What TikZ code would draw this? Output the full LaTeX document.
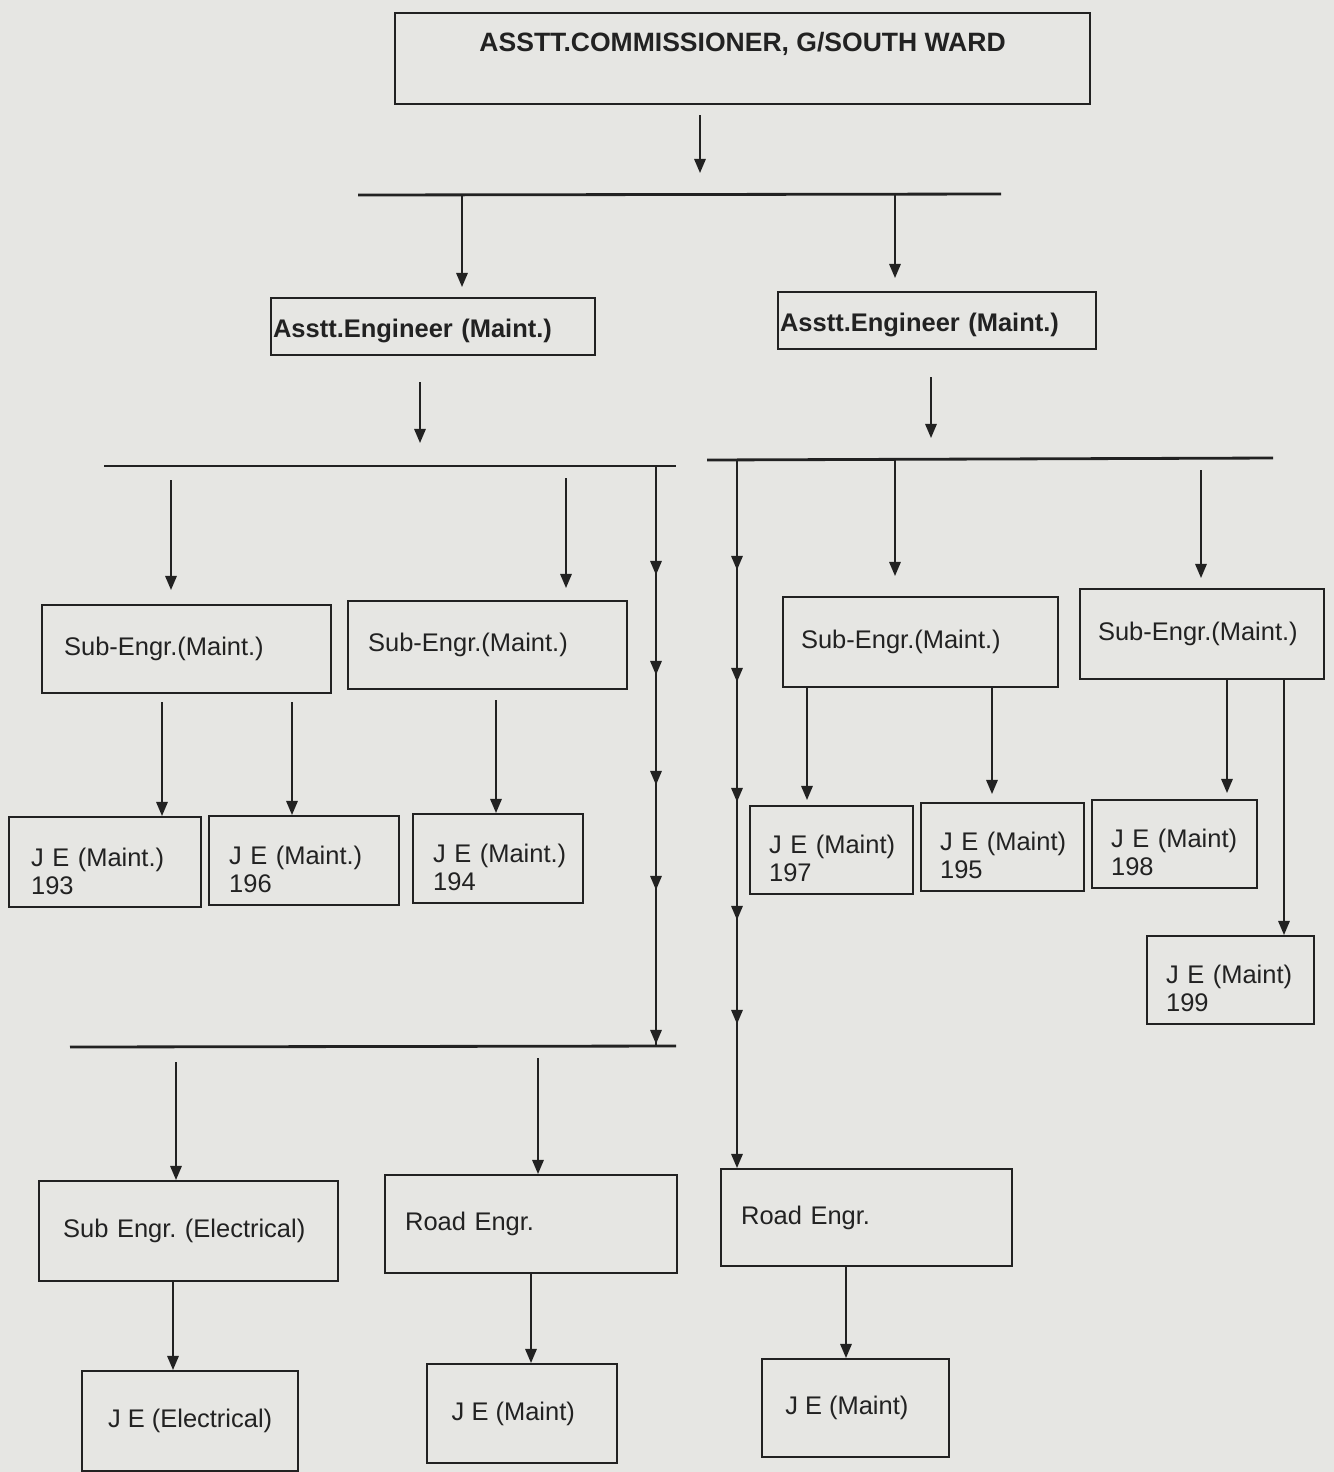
\documentclass[tikz,border=0pt]{standalone}
\usepackage{fontspec}
\setmainfont{Liberation Sans}
\usetikzlibrary{arrows.meta, calc, positioning}
\definecolor{paper}{RGB}{230,230,227}
\definecolor{ink}{RGB}{34,34,34}
\newcommand{\dnstrut}[1]{\rule{0pt}{#1}}
\tikzset{
  box/.style={draw=ink, line width=1.3pt, rectangle, anchor=north west, inner ysep=2pt,
    font=\fontsize{14.5}{16}\selectfont, text=ink},
  lbox/.style={box, align=left},
  cbox/.style={box, align=center},
  arr/.style={draw=ink, line width=1pt, -{Triangle[length=8pt,width=6.5pt]}},
  trunk/.style={draw=ink, line width=1pt},
  bus/.style={draw=ink, line width=1.6pt}
}

\begin{document}
\begin{tikzpicture}[x=0.02cm, y=-0.02cm]
\useasboundingbox (0,0) rectangle (1334,1472);
\fill[paper] (0,0) rectangle (1334,1472);

% Head of the ward
\node[cbox, font=\bfseries\fontsize{15.1}{16}\selectfont, minimum width=395.5pt, minimum height=51.8pt,
  text height=10.8pt, text depth=19pt] (comm) at (394,12) {ASSTT.COMMISSIONER, G/SOUTH WARD};

% Asstt. Engineers
\node[lbox, font=\bfseries\fontsize{14.5}{16}\selectfont, minimum width=184.4pt, minimum height=32.4pt,
  text width=182.2pt, inner xsep=1.1pt] (ae1) at (270,297) {\dnstrut{16pt}Asstt.Engineer~(Maint.)};
\node[lbox, font=\bfseries\fontsize{14.5}{16}\selectfont, minimum width=180.9pt, minimum height=32.4pt,
  text width=178.7pt, inner xsep=1.1pt] (ae2) at (777,291) {\dnstrut{16pt}Asstt.Engineer~(Maint.)};

% Sub Engineers
\node[lbox, minimum width=164.4pt, minimum height=50.1pt, text width=139.4pt, inner xsep=12.5pt] (se1) at (41,604) {Sub-Engr.(Maint.)};
\node[lbox, minimum width=158.8pt, minimum height=50.1pt, text width=136pt, inner xsep=11.4pt] (se2) at (347,600) {Sub-Engr.(Maint.)};
\node[lbox, minimum width=156.5pt, minimum height=51.2pt, text width=136.1pt, inner xsep=10.2pt] (se3) at (782,596) {Sub-Engr.(Maint.)};
\node[lbox, minimum width=138.8pt, minimum height=51.2pt, text width=118.4pt, inner xsep=10.2pt] (se4) at (1079,588) {Sub-Engr.(Maint.)};

% Junior Engineers (numbered)
\node[lbox, minimum width=109.2pt, minimum height=51.2pt, text width=84.2pt, inner xsep=12.5pt] (je193) at (8,816) {\dnstrut{21pt}J~E~(Maint.)\\193};
\node[lbox, minimum width=108.1pt, minimum height=50.6pt, text width=85.3pt, inner xsep=11.4pt] (je196) at (208,815) {\dnstrut{21pt}J~E~(Maint.)\\196};
\node[lbox, minimum width=96.7pt, minimum height=50.6pt, text width=73.9pt, inner xsep=11.4pt] (je194) at (412,813) {\dnstrut{21pt}J~E~(Maint.)\\194};
\node[lbox, minimum width=92.7pt, minimum height=50.1pt, text width=71.1pt, inner xsep=10.8pt] (je197) at (749,805) {\dnstrut{20pt}J~E~(Maint)\\197};
\node[lbox, minimum width=92.7pt, minimum height=50.1pt, text width=71.1pt, inner xsep=10.8pt] (je195) at (920,802) {\dnstrut{20pt}J~E~(Maint)\\195};
\node[lbox, minimum width=93.9pt, minimum height=50.1pt, text width=72.3pt, inner xsep=10.8pt] (je198) at (1091,799) {\dnstrut{20pt}J~E~(Maint)\\198};
\node[lbox, minimum width=95pt, minimum height=50.1pt, text width=73.4pt, inner xsep=10.8pt] (je199) at (1146,935) {\dnstrut{20pt}J~E~(Maint)\\199};

% Electrical and road
\node[lbox, minimum width=170.1pt, minimum height=56.9pt, text width=142.7pt, inner xsep=13.7pt] (sel) at (38,1180) {Sub~Engr.~(Electrical)};
\node[lbox, minimum width=166.2pt, minimum height=55.8pt, text width=143.4pt, inner xsep=11.4pt] (rdl) at (384,1174) {Road~Engr.};
\node[lbox, minimum width=165.6pt, minimum height=55.2pt, text width=142.8pt, inner xsep=11.4pt] (rdr) at (720,1168) {Road~Engr.};
\node[cbox, minimum width=122.9pt, minimum height=56.9pt] (jel) at (81,1370) {J E (Electrical)};
\node[cbox, minimum width=108.1pt, minimum height=56.3pt] (jml) at (426,1363) {J E (Maint)\hspace*{10pt}};
\node[cbox, minimum width=106.4pt, minimum height=55.8pt] (jmr) at (761,1358) {J E (Maint)\hspace*{10pt}};

% Bus lines
\coordinate (b1a) at (358,195);
\coordinate (b1b) at (1001,194);
\coordinate (b2a) at (104,466);
\coordinate (b2b) at (676,466);
\coordinate (b2c) at (707,460);
\coordinate (b2d) at (1273,458);
\coordinate (b3a) at (70,1047);
\coordinate (b3b) at (676,1046);
\draw[bus] (b1a) -- (b1b);
\draw[bus] (b2a) -- (b2b);
\draw[bus] (b2c) -- (b2d);
\draw[bus] (b3a) -- (b3b);

% Commissioner to AEs
\draw[arr] ($(700,0 |- comm.south)+(0,10)$) -- ($(700,0 |- b1a)+(0,-22)$);
\draw[arr] (462,0 |- b1a) -- ($(462,0 |- ae1.north)+(0,-10)$);
\draw[arr] (895,0 |- b1a) -- ($(895,0 |- ae2.north)+(0,-13)$);

% AEs to second level
\draw[arr] ($(420,0 |- ae1.south)+(0,26)$) -- ($(420,0 |- b2a)+(0,-23)$);
\draw[arr] ($(931,0 |- ae2.south)+(0,27)$) -- ($(931,0 |- b2c)+(0,-22)$);
\draw[arr] ($(171,0 |- b2a)+(0,14)$) -- ($(171,0 |- se1.north)+(0,-14)$);
\draw[arr] ($(566,0 |- b2a)+(0,12)$) -- ($(566,0 |- se2.north)+(0,-12)$);
\draw[arr] (895,0 |- b2c) -- ($(895,0 |- se3.north)+(0,-20)$);
\draw[arr] ($(1201,0 |- b2d)+(0,12)$) -- ($(1201,0 |- se4.north)+(0,-10)$);

% long trunks
\draw[trunk] (656,0 |- b2a) -- (656,0 |- b3a);
\foreach \y in {575,675,785,890,1044}
  \draw[arr] (656,\y-12) -- (656,\y);
\draw[arr] (737,0 |- b2c) -- (737,0 |- rdr.north);
\foreach \y in {570,682,802,920,1024}
  \draw[arr] (737,\y-12) -- (737,\y);

% Sub Engineers to JEs
\draw[arr] ($(162,0 |- se1.south)+(0,8)$) -- (162,0 |- je193.north);
\draw[arr] ($(292,0 |- se1.south)+(0,8)$) -- (292,0 |- je196.north);
\draw[arr] ($(496,0 |- se2.south)+(0,10)$) -- (496,0 |- je194.north);
\draw[arr] (807,0 |- se3.south) -- ($(807,0 |- je197.north)+(0,-5)$);
\draw[arr] (992,0 |- se3.south) -- ($(992,0 |- je195.north)+(0,-8)$);
\draw[arr] (1227,0 |- se4.south) -- ($(1227,0 |- je198.north)+(0,-6)$);
\draw[arr] (1284,0 |- se4.south) -- (1284,0 |- je199.north);

% third level
\draw[arr] ($(176,0 |- b3a)+(0,15)$) -- (176,0 |- sel.north);
\draw[arr] ($(538,0 |- b3a)+(0,11)$) -- (538,0 |- rdl.north);
\draw[arr] (173,0 |- sel.south) -- (173,0 |- jel.north);
\draw[arr] (531,0 |- rdl.south) -- (531,0 |- jml.north);
\draw[arr] (846,0 |- rdr.south) -- (846,0 |- jmr.north);
\end{tikzpicture}
\end{document}
